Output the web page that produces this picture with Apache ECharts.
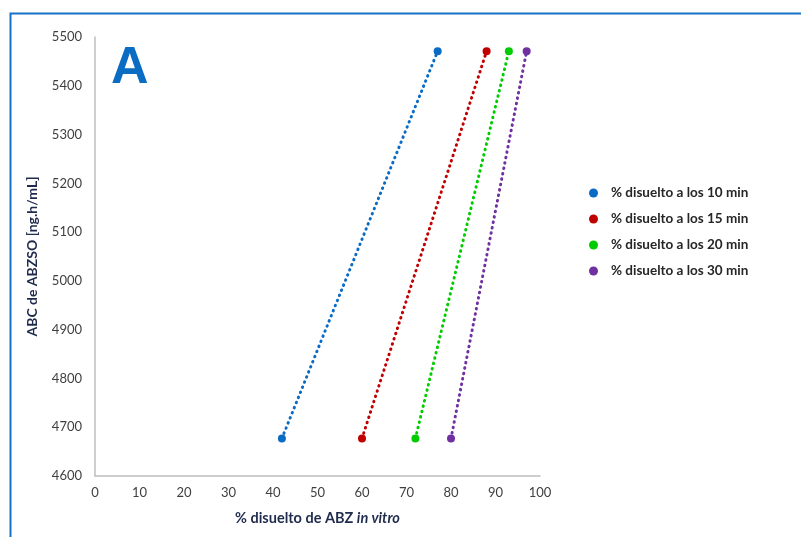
<!DOCTYPE html>
<html><head><meta charset="utf-8">
<script src="https://cdn.jsdelivr.net/npm/echarts@6/dist/echarts.min.js"></script>
<style>html,body{margin:0;padding:0;background:#fff}#c{width:801px;height:537px}</style>
</head><body><div id="c"></div>
<script>
const seriesNames = ['% disuelto a los 10 min','% disuelto a los 15 min','% disuelto a los 20 min','% disuelto a los 30 min'];
const colors = ['#0A6BC4','#C00000','#00CC00','#7030A0'];
const auc = [4677, 5471];
const dis10 = [42, 77];
const dis15 = [60, 88];
const dis20 = [72, 93];
const dis30 = [80, 97];
const allDis = [dis10, dis15, dis20, dis30];
const font = 'Lato, "Open Sans", sans-serif';

const chart = echarts.init(document.getElementById('c'));
chart.setOption({
  animation: false,
  backgroundColor: '#fff',
  graphic: [
    {type:'rect', shape:{x:10.5,y:13.5,width:830,height:600}, style:{fill:'none', stroke:'#1673C8', lineWidth:2}},
    {type:'text', left:111, top:43, style:{text:'A', font:'bold 52px Arial, "Liberation Sans", sans-serif', fill:'#0B6CC3'}}
  ],
  grid: {left:95, right:261, top:37, bottom:61},
  legend: {
    orient:'vertical', left:584, top:181, itemWidth:9, itemHeight:9, itemGap:12,
    icon:'circle',
    textStyle:{fontFamily:font, fontSize:13.5, fontWeight:'bold', color:'#262626', padding:[0,0,0,8]},
    data: seriesNames
  },
  xAxis: {
    type:'value', min:0, max:100, interval:10,
    name:'{n|% disuelto de ABZ }{i|in vitro}', nameLocation:'middle', nameGap:35,
    nameTextStyle:{rich:{
      n:{fontFamily:font, fontSize:14.5, fontWeight:'bold', color:'#1F2B4D'},
      i:{fontFamily:font, fontSize:14.5, fontWeight:'bold', fontStyle:'italic', color:'#1F2B4D'}
    }},
    axisLine:{lineStyle:{color:'#BFBFBF', width:1.5}},
    axisTick:{show:false}, splitLine:{show:false},
    axisLabel:{fontFamily:font, fontSize:13, color:'#404040', margin:10}
  },
  yAxis: {
    type:'value', min:4600, max:5500, interval:100,
    name:'ABC de ABZSO [ng.h/mL]', nameLocation:'middle', nameGap:56,
    nameTextStyle:{fontFamily:font, fontSize:14, fontWeight:'bold', color:'#1F2B4D'},
    axisLine:{show:true, lineStyle:{color:'#BFBFBF', width:1.5}},
    axisTick:{show:false}, splitLine:{show:false},
    axisLabel:{fontFamily:font, fontSize:13, color:'#404040', margin:13, formatter: v => String(v)}
  },
  series: allDis.map((d,i)=>({
    name: seriesNames[i], type:'line',
    data: d.map((x,j)=>[x, auc[j]]),
    symbol:'circle', symbolSize:8,
    itemStyle:{color:colors[i]},
    lineStyle:{color:colors[i], width:3, type:[0.5,5], cap:'round'}
  }))
});
</script></body></html>
